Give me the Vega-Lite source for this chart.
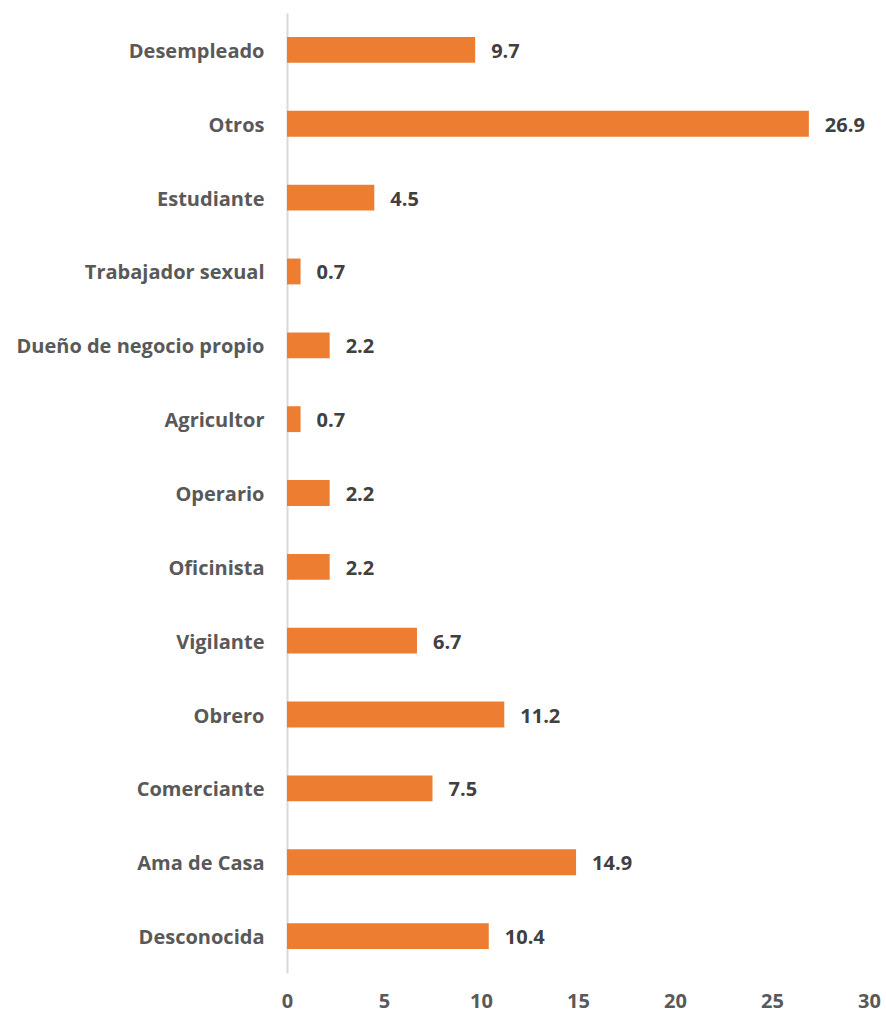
{
  "$schema": "https://vega.github.io/schema/vega-lite/v6.json",
  "autosize": {"type": "none"},
  "width": 582,
  "height": 960,
  "padding": {"left": 287, "top": 13, "right": 17, "bottom": 41},
  "background": "white",
  "config": {"view": {"stroke": null}, "font": "Open Sans"},
  "data": {"values": [
    {"cat": "Desempleado", "v": 9.7},
    {"cat": "Otros", "v": 26.9},
    {"cat": "Estudiante", "v": 4.5},
    {"cat": "Trabajador sexual", "v": 0.7},
    {"cat": "Dueño de negocio propio", "v": 2.2},
    {"cat": "Agricultor", "v": 0.7},
    {"cat": "Operario", "v": 2.2},
    {"cat": "Oficinista", "v": 2.2},
    {"cat": "Vigilante", "v": 6.7},
    {"cat": "Obrero", "v": 11.2},
    {"cat": "Comerciante", "v": 7.5},
    {"cat": "Ama de Casa", "v": 14.9},
    {"cat": "Desconocida", "v": 10.4}
  ]},
  "encoding": {
    "y": {"field": "cat", "type": "nominal", "sort": null,
      "scale": {"paddingInner": 0.65, "paddingOuter": 0.325},
      "axis": {"title": null, "ticks": false, "domainColor": "#d9d9d9", "domainWidth": 2,
        "labelFontSize": 20, "labelFontWeight": "bold", "labelColor": "#595959", "labelPadding": 23, "labelOffset": 2, "labelFont": "Open Sans", "labelLimit": 0}},
    "x": {"field": "v", "type": "quantitative",
      "scale": {"domain": [0, 30], "nice": false},
      "axis": {"title": null, "values": [0, 5, 10, 15, 20, 25, 30], "grid": false, "domain": false, "ticks": false,
        "labelFontSize": 20, "labelFontWeight": "bold", "labelColor": "#595959", "labelPadding": 18, "labelFont": "Open Sans", "labelFlush": false}}
  },
  "layer": [
    {"mark": {"type": "bar", "color": "#ed7d31"}},
    {"mark": {"type": "text", "align": "left", "dx": 16, "dy": 2, "fontSize": 20, "fontWeight": "bold", "color": "#404040", "font": "Open Sans"},
     "encoding": {"text": {"field": "v", "type": "quantitative", "format": ".1f"}}}
  ]
}
